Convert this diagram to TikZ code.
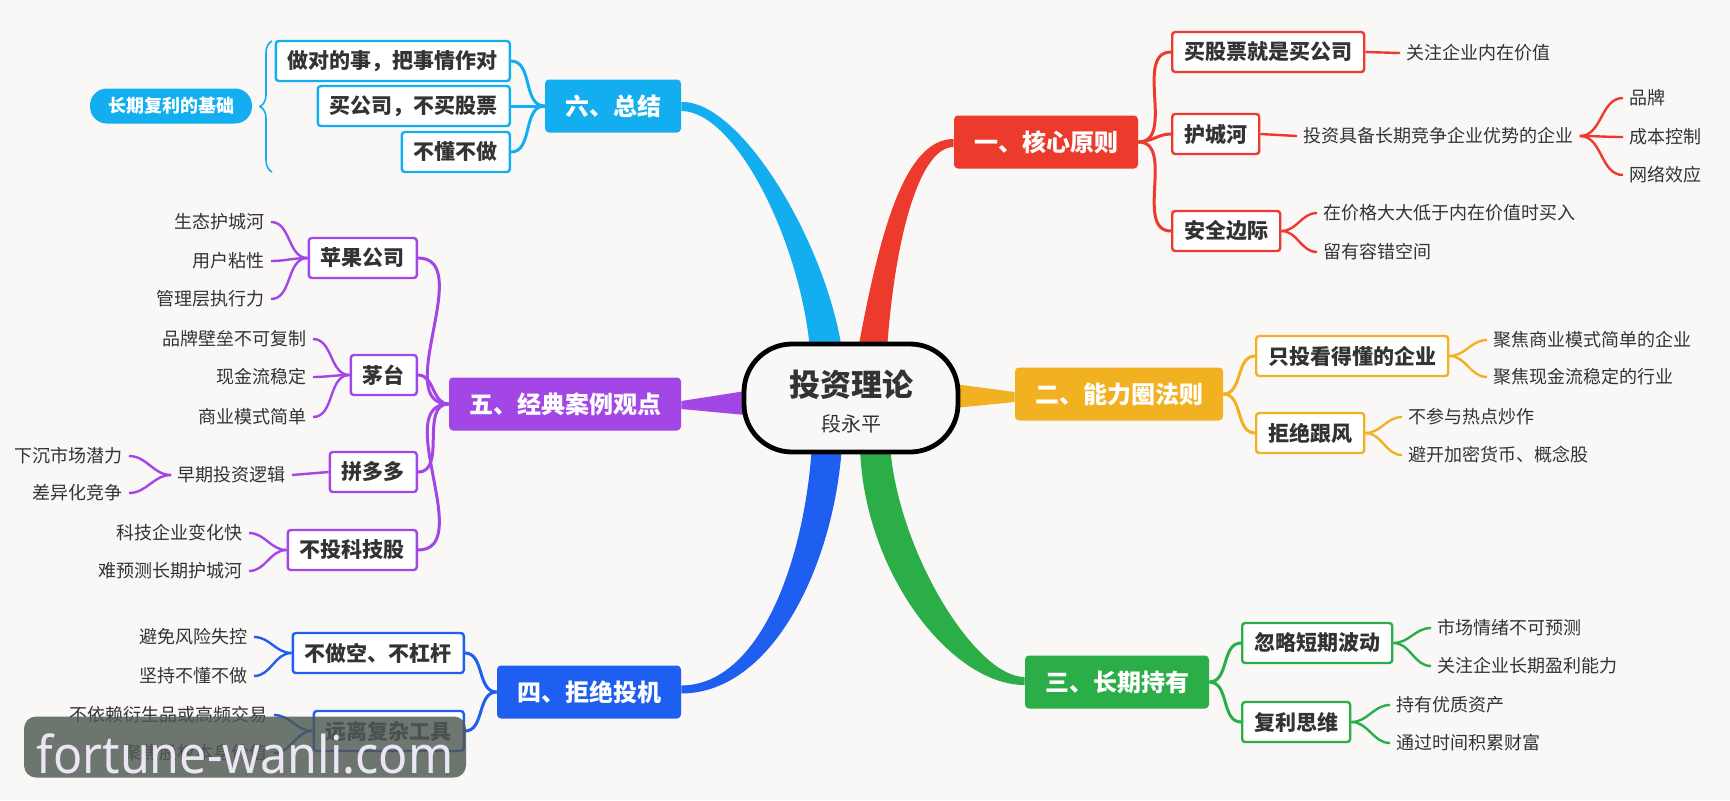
\documentclass[tikz,border=0pt]{standalone}
\usepackage{fontspec}
\setmainfont{Noto Sans CJK SC}
\newfontfamily\marquefont{Noto Sans}
\usetikzlibrary{decorations.pathreplacing}
\pgfdeclarelayer{bg}
\pgfsetlayers{bg,main}
\definecolor{fond}{HTML}{FAF7F7}
\definecolor{texte}{HTML}{333333}
\definecolor{rouge}{HTML}{EC3A2C}
\definecolor{jaune}{HTML}{F2B120}
\definecolor{vert}{HTML}{2BAE48}
\definecolor{bleu}{HTML}{1E5EF0}
\definecolor{mauve}{HTML}{A346E6}
\definecolor{ciel}{HTML}{12AEEF}
\definecolor{gris}{HTML}{4E5952}
\definecolor{lilas}{HTML}{ECE6F4}
\begin{document}
\begin{tikzpicture}[x=0.5pt,y=-0.5pt]
		% Styles
		\tikzstyle{racine}=[draw=black,line width=2.4pt,fill=fond,rounded corners=24pt,minimum width=107pt,minimum height=54pt]
		\tikzstyle{theme}=[rounded corners=2pt,text=white,font=\fontsize{12}{14}\selectfont\bfseries,inner xsep=10pt,minimum height=26.5pt]
		\tikzstyle{sujet}=[draw,fill=white,line width=1.2pt,rounded corners=1.5pt,text=texte,font=\fontsize{10.5}{12}\selectfont\bfseries,inner xsep=6pt,inner ysep=2pt,minimum height=20pt]
		\tikzstyle{feuille}=[text=texte,font=\fontsize{9}{11}\selectfont,inner xsep=3pt]
		\tikzstyle{lien}=[line width=1.5pt]
		\tikzstyle{brin}=[line width=1.2pt]
		% Fond
		\useasboundingbox (0,0) rectangle (1730,800);
		\begin{pgfonlayer}{bg}
			\fill[fond] (0,0) rectangle (1730,800);
		\end{pgfonlayer}
		% Racine
		\node[racine] (R) at (851,398) {};
		\node[text=texte,font=\fontsize{15.5}{17}\selectfont\bfseries] (Rtitre) at (851,385) {投资理论};
		\node[text=texte,font=\fontsize{10}{12}\selectfont] (Rauteur) at (851,424) {段永平};
		% Themes
		\node[theme,fill=rouge] (Ra) at (1046,142) {一、核心原则};
		\node[theme,fill=jaune] (Rb) at (1119,394) {二、能力圈法则};
		\node[theme,fill=vert] (Rc) at (1117,682) {三、长期持有};
		\node[theme,fill=bleu] (Rd) at (589,692) {四、拒绝投机};
		\node[theme,fill=mauve] (Re) at (565,404) {五、经典案例观点};
		\node[theme,fill=ciel] (Rf) at (613,106) {六、总结};
		% Branches epaisses
		\begin{pgfonlayer}{bg}
			\fill[rouge] ([xshift=3.5pt,yshift=-4pt]R.north) .. controls (880,230) and (905,139) .. ([yshift=1.5pt]Ra.west)
				-- ([yshift=-2.5pt]Ra.west) .. controls (920,147) and (895,235) .. ([xshift=18pt,yshift=-4pt]R.north) -- cycle;
			\fill[ciel] ([xshift=-4.5pt,yshift=-4pt]R.north) .. controls (825,240) and (740,100) .. ([yshift=2pt]Rf.east)
				-- ([yshift=-2.5pt]Rf.east) .. controls (735,111) and (800,240) .. ([xshift=-20.5pt,yshift=-4pt]R.north) -- cycle;
			\fill[vert] ([xshift=4.5pt,yshift=5pt]R.south) .. controls (862,570) and (950,685) .. ([yshift=-1.5pt]Rc.west)
				-- ([yshift=2.5pt]Rc.west) .. controls (975,677) and (897,550) .. ([xshift=19.5pt,yshift=5pt]R.south) -- cycle;
			\fill[bleu] ([xshift=-19.5pt,yshift=5pt]R.south) .. controls (805,560) and (760,685) .. ([yshift=3.25pt]Rd.east)
				-- ([yshift=-0.75pt]Rd.east) .. controls (775,693) and (835,560) .. ([xshift=-4.5pt,yshift=5pt]R.south) -- cycle;
			\fill[mauve] ([yshift=1.5pt]Re.east) -- ([xshift=2pt,yshift=3.5pt]R.west) -- ([xshift=2pt,yshift=-8.5pt]R.west) -- ([yshift=-2.5pt]Re.east) -- cycle;
			\fill[jaune] ([xshift=-3pt,yshift=7pt]R.east) -- ([yshift=1pt]Rb.west) -- ([yshift=-4pt]Rb.west) -- ([xshift=-3pt,yshift=-5pt]R.east) -- cycle;
		\end{pgfonlayer}
		% Un : rouge
		\node[sujet,draw=rouge,anchor=west] (Raa) at (1171,52) {买股票就是买公司};
		\node[sujet,draw=rouge,anchor=west] (Rab) at (1171,134) {护城河};
		\node[sujet,draw=rouge,anchor=west] (Rac) at (1171,231) {安全边际};
		\node[feuille,anchor=west] (Raaa) at (1400,53) {关注企业内在价值};
		\node[feuille,anchor=west] (Raba) at (1297,136) {投资具备长期竞争企业优势的企业};
		\node[feuille,anchor=west] (Rabaa) at (1623,98) {品牌};
		\node[feuille,anchor=west] (Rabab) at (1623,137) {成本控制};
		\node[feuille,anchor=west] (Rabac) at (1623,175) {网络效应};
		\node[feuille,anchor=west] (Raca) at (1317,213) {在价格大大低于内在价值时买入};
		\node[feuille,anchor=west] (Racb) at (1317,252) {留有容错空间};
		\foreach \n in {Raa,Rab,Rac} \draw[lien,rouge] (Ra.east) to[out=0,in=180] (\n.west);
		\draw[brin,rouge] (Raa.east) -- (Raaa.west);
		\draw[brin,rouge] (Rab.east) -- (Raba.west);
		\foreach \n in {Rabaa,Rabab,Rabac} \draw[brin,rouge] (Raba.east) to[out=0,in=180] (\n.west);
		\foreach \n in {Raca,Racb} \draw[brin,rouge] (Rac.east) to[out=0,in=180] (\n.west);
		% Deux : jaune
		\node[sujet,draw=jaune,anchor=west] (Rba) at (1255,356) {只投看得懂的企业};
		\node[sujet,draw=jaune,anchor=west] (Rbb) at (1255,433) {拒绝跟风};
		\node[feuille,anchor=west] (Rbaa) at (1487,340) {聚焦商业模式简单的企业};
		\node[feuille,anchor=west] (Rbab) at (1487,377) {聚焦现金流稳定的行业};
		\node[feuille,anchor=west] (Rbba) at (1402,417) {不参与热点炒作};
		\node[feuille,anchor=west] (Rbbb) at (1402,455) {避开加密货币、概念股};
		\foreach \n in {Rba,Rbb} \draw[lien,jaune] (Rb.east) to[out=0,in=180] (\n.west);
		\foreach \n in {Rbaa,Rbab} \draw[brin,jaune] (Rba.east) to[out=0,in=180] (\n.west);
		\foreach \n in {Rbba,Rbbb} \draw[brin,jaune] (Rbb.east) to[out=0,in=180] (\n.west);
		% Trois : vert
		\node[sujet,draw=vert,anchor=west] (Rca) at (1241,643) {忽略短期波动};
		\node[sujet,draw=vert,anchor=west] (Rcb) at (1241,722) {复利思维};
		\node[feuille,anchor=west] (Rcaa) at (1431,628) {市场情绪不可预测};
		\node[feuille,anchor=west] (Rcab) at (1431,666) {关注企业长期盈利能力};
		\node[feuille,anchor=west] (Rcba) at (1390,705) {持有优质资产};
		\node[feuille,anchor=west] (Rcbb) at (1390,743) {通过时间积累财富};
		\foreach \n in {Rca,Rcb} \draw[lien,vert] (Rc.east) to[out=0,in=180] (\n.west);
		\foreach \n in {Rcaa,Rcab} \draw[brin,vert] (Rca.east) to[out=0,in=180] (\n.west);
		\foreach \n in {Rcba,Rcbb} \draw[brin,vert] (Rcb.east) to[out=0,in=180] (\n.west);
		% Quatre : bleu
		\node[sujet,draw=bleu,anchor=east] (Rda) at (465,653) {不做空、不杠杆};
		\node[sujet,draw=bleu,anchor=east] (Rdb) at (465,731) {远离复杂工具};
		\node[feuille,anchor=east] (Rdaa) at (254,637) {避免风险失控};
		\node[feuille,anchor=east] (Rdab) at (254,676) {坚持不懂不做};
		\node[feuille,anchor=east] (Rdba) at (274,715) {不依赖衍生品或高频交易};
		\node[feuille,anchor=east] (Rdbb) at (274,753) {聚焦股权本身价值};
		\foreach \n in {Rda,Rdb} \draw[lien,bleu] (Rd.west) to[out=180,in=0] (\n.east);
		\foreach \n in {Rdaa,Rdab} \draw[brin,bleu] (Rda.west) to[out=180,in=0] (\n.east);
		\foreach \n in {Rdba,Rdbb} \draw[brin,bleu] (Rdb.west) to[out=180,in=0] (\n.east);
		% Cinq : mauve
		\node[sujet,draw=mauve,anchor=east] (Rea) at (418,258) {苹果公司};
		\node[sujet,draw=mauve,anchor=east] (Reb) at (418,375) {茅台};
		\node[sujet,draw=mauve,anchor=east] (Rec) at (418,472) {拼多多};
		\node[sujet,draw=mauve,anchor=east] (Red) at (418,550) {不投科技股};
		\node[feuille,anchor=east] (Reaa) at (271,222) {生态护城河};
		\node[feuille,anchor=east] (Reab) at (271,261) {用户粘性};
		\node[feuille,anchor=east] (Reac) at (271,299) {管理层执行力};
		\node[feuille,anchor=east] (Reba) at (313,339) {品牌壁垒不可复制};
		\node[feuille,anchor=east] (Rebb) at (313,377) {现金流稳定};
		\node[feuille,anchor=east] (Rebc) at (313,417) {商业模式简单};
		\node[feuille,anchor=east] (Reca) at (292,475) {早期投资逻辑};
		\node[feuille,anchor=east] (Recaa) at (129,456) {下沉市场潜力};
		\node[feuille,anchor=east] (Recab) at (129,493) {差异化竞争};
		\node[feuille,anchor=east] (Reda) at (249,533) {科技企业变化快};
		\node[feuille,anchor=east] (Redb) at (249,571) {难预测长期护城河};
		\foreach \n in {Rea,Reb,Rec,Red} \draw[lien,mauve] (Re.west) to[out=180,in=0] (\n.east);
		\foreach \n in {Reaa,Reab,Reac} \draw[brin,mauve] (Rea.west) to[out=180,in=0] (\n.east);
		\foreach \n in {Reba,Rebb,Rebc} \draw[brin,mauve] (Reb.west) to[out=180,in=0] (\n.east);
		\draw[brin,mauve] (Rec.west) -- (Reca.east);
		\foreach \n in {Recaa,Recab} \draw[brin,mauve] (Reca.west) to[out=180,in=0] (\n.east);
		\foreach \n in {Reda,Redb} \draw[brin,mauve] (Red.west) to[out=180,in=0] (\n.east);
		% Six : ciel
		\node[sujet,draw=ciel,anchor=east] (Rfa) at (511,61) {做对的事，把事情作对};
		\node[sujet,draw=ciel,anchor=east] (Rfb) at (511,106) {买公司，不买股票};
		\node[sujet,draw=ciel,anchor=east] (Rfc) at (511,152) {不懂不做};
		\foreach \n in {Rfa,Rfb,Rfc} \draw[lien,ciel] (Rf.west) to[out=180,in=0] (\n.east);
		\draw[ciel,line width=0.8pt,decorate,decoration={brace,amplitude=6pt}] (272,172) -- (272,41);
		\node[fill=ciel,text=white,rounded corners=8.5pt,minimum width=81pt,minimum height=17.5pt,font=\fontsize{9}{11}\selectfont\bfseries] (Rfs) at (171,106) {长期复利的基础};
		% Filigrane
		\node[fill=gris,fill opacity=0.82,text opacity=1,text=lilas,rounded corners=6pt,minimum width=221pt,minimum height=30.5pt,inner ysep=2pt,text height=26pt,text depth=0pt,font=\marquefont\fontsize{26}{26}\selectfont] (marque) at (245,747) {\scalebox{0.93}[1]{fortune-wanli.com}};
	\end{tikzpicture}
\end{document}
